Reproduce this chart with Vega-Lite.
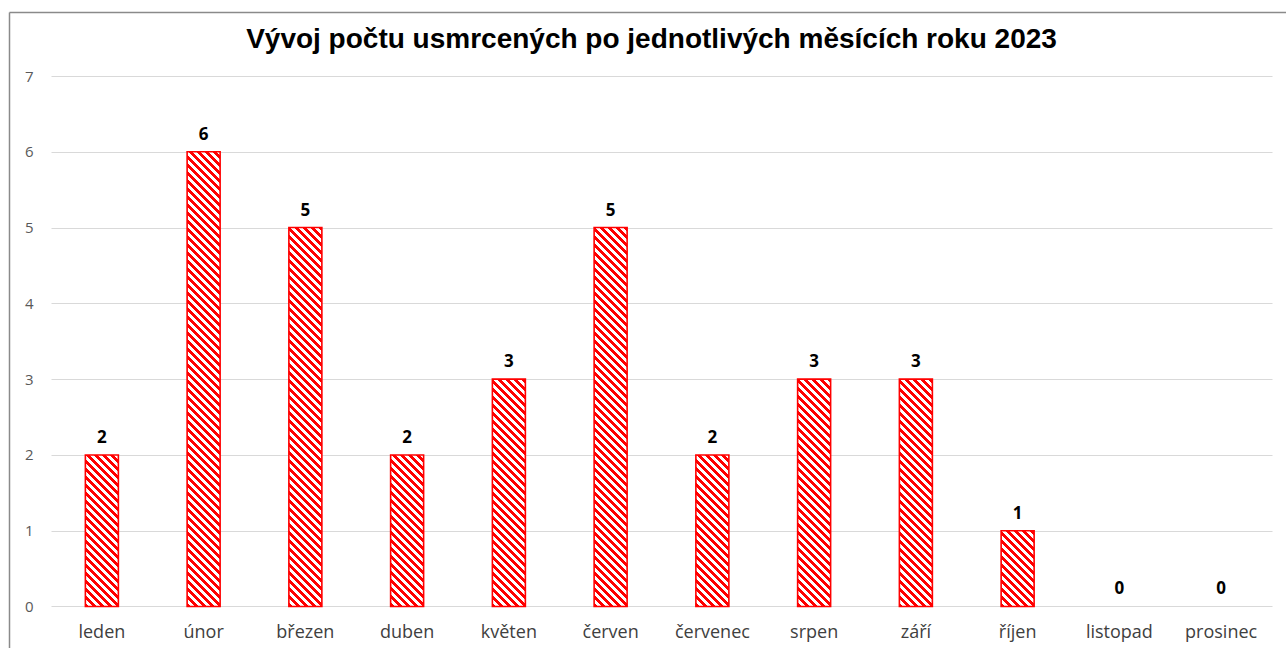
{
"$schema": "https://vega.github.io/schema/vega-lite/v6.json",
"autosize": {"type": "none"},
"width": 1221,
"height": 636,
"padding": {"left": 51, "top": 12, "right": 14, "bottom": 0},
"background": "white",
"config": {"view": {"stroke": null}, "font": "Open Sans"},
"params": [
{"name": "hatch", "value": [{"offset":0,"color":"red"},
{"offset":0.008,"color":"red"},{"offset":0.008,"color":"white"},
{"offset":0.016,"color":"white"},{"offset":0.016,"color":"red"},
{"offset":0.024,"color":"red"},{"offset":0.024,"color":"white"},
{"offset":0.032,"color":"white"},{"offset":0.032,"color":"red"},
{"offset":0.04,"color":"red"},{"offset":0.04,"color":"white"},
{"offset":0.048,"color":"white"},{"offset":0.048,"color":"red"},
{"offset":0.056,"color":"red"},{"offset":0.056,"color":"white"},
{"offset":0.064,"color":"white"},{"offset":0.064,"color":"red"},
{"offset":0.072,"color":"red"},{"offset":0.072,"color":"white"},
{"offset":0.08,"color":"white"},{"offset":0.08,"color":"red"},
{"offset":0.088,"color":"red"},{"offset":0.088,"color":"white"},
{"offset":0.096,"color":"white"},{"offset":0.096,"color":"red"},
{"offset":0.104,"color":"red"},{"offset":0.104,"color":"white"},
{"offset":0.112,"color":"white"},{"offset":0.112,"color":"red"},
{"offset":0.12,"color":"red"},{"offset":0.12,"color":"white"},
{"offset":0.128,"color":"white"},{"offset":0.128,"color":"red"},
{"offset":0.136,"color":"red"},{"offset":0.136,"color":"white"},
{"offset":0.144,"color":"white"},{"offset":0.144,"color":"red"},
{"offset":0.152,"color":"red"},{"offset":0.152,"color":"white"},
{"offset":0.16,"color":"white"},{"offset":0.16,"color":"red"},
{"offset":0.168,"color":"red"},{"offset":0.168,"color":"white"},
{"offset":0.176,"color":"white"},{"offset":0.176,"color":"red"},
{"offset":0.184,"color":"red"},{"offset":0.184,"color":"white"},
{"offset":0.192,"color":"white"},{"offset":0.192,"color":"red"},
{"offset":0.2,"color":"red"},{"offset":0.2,"color":"white"},
{"offset":0.208,"color":"white"},{"offset":0.208,"color":"red"},
{"offset":0.216,"color":"red"},{"offset":0.216,"color":"white"},
{"offset":0.224,"color":"white"},{"offset":0.224,"color":"red"},
{"offset":0.232,"color":"red"},{"offset":0.232,"color":"white"},
{"offset":0.24,"color":"white"},{"offset":0.24,"color":"red"},
{"offset":0.248,"color":"red"},{"offset":0.248,"color":"white"},
{"offset":0.256,"color":"white"},{"offset":0.256,"color":"red"},
{"offset":0.264,"color":"red"},{"offset":0.264,"color":"white"},
{"offset":0.272,"color":"white"},{"offset":0.272,"color":"red"},
{"offset":0.28,"color":"red"},{"offset":0.28,"color":"white"},
{"offset":0.288,"color":"white"},{"offset":0.288,"color":"red"},
{"offset":0.296,"color":"red"},{"offset":0.296,"color":"white"},
{"offset":0.304,"color":"white"},{"offset":0.304,"color":"red"},
{"offset":0.312,"color":"red"},{"offset":0.312,"color":"white"},
{"offset":0.32,"color":"white"},{"offset":0.32,"color":"red"},
{"offset":0.328,"color":"red"},{"offset":0.328,"color":"white"},
{"offset":0.336,"color":"white"},{"offset":0.336,"color":"red"},
{"offset":0.344,"color":"red"},{"offset":0.344,"color":"white"},
{"offset":0.352,"color":"white"},{"offset":0.352,"color":"red"},
{"offset":0.36,"color":"red"},{"offset":0.36,"color":"white"},
{"offset":0.368,"color":"white"},{"offset":0.368,"color":"red"},
{"offset":0.376,"color":"red"},{"offset":0.376,"color":"white"},
{"offset":0.384,"color":"white"},{"offset":0.384,"color":"red"},
{"offset":0.392,"color":"red"},{"offset":0.392,"color":"white"},
{"offset":0.4,"color":"white"},{"offset":0.4,"color":"red"},
{"offset":0.408,"color":"red"},{"offset":0.408,"color":"white"},
{"offset":0.416,"color":"white"},{"offset":0.416,"color":"red"},
{"offset":0.424,"color":"red"},{"offset":0.424,"color":"white"},
{"offset":0.432,"color":"white"},{"offset":0.432,"color":"red"},
{"offset":0.44,"color":"red"},{"offset":0.44,"color":"white"},
{"offset":0.448,"color":"white"},{"offset":0.448,"color":"red"},
{"offset":0.456,"color":"red"},{"offset":0.456,"color":"white"},
{"offset":0.464,"color":"white"},{"offset":0.464,"color":"red"},
{"offset":0.472,"color":"red"},{"offset":0.472,"color":"white"},
{"offset":0.48,"color":"white"},{"offset":0.48,"color":"red"},
{"offset":0.488,"color":"red"},{"offset":0.488,"color":"white"},
{"offset":0.496,"color":"white"},{"offset":0.496,"color":"red"},
{"offset":0.504,"color":"red"},{"offset":0.504,"color":"white"},
{"offset":0.512,"color":"white"},{"offset":0.512,"color":"red"},
{"offset":0.52,"color":"red"},{"offset":0.52,"color":"white"},
{"offset":0.528,"color":"white"},{"offset":0.528,"color":"red"},
{"offset":0.536,"color":"red"},{"offset":0.536,"color":"white"},
{"offset":0.544,"color":"white"},{"offset":0.544,"color":"red"},
{"offset":0.552,"color":"red"},{"offset":0.552,"color":"white"},
{"offset":0.56,"color":"white"},{"offset":0.56,"color":"red"},
{"offset":0.568,"color":"red"},{"offset":0.568,"color":"white"},
{"offset":0.576,"color":"white"},{"offset":0.576,"color":"red"},
{"offset":0.584,"color":"red"},{"offset":0.584,"color":"white"},
{"offset":0.592,"color":"white"},{"offset":0.592,"color":"red"},
{"offset":0.6,"color":"red"},{"offset":0.6,"color":"white"},
{"offset":0.608,"color":"white"},{"offset":0.608,"color":"red"},
{"offset":0.616,"color":"red"},{"offset":0.616,"color":"white"},
{"offset":0.624,"color":"white"},{"offset":0.624,"color":"red"},
{"offset":0.632,"color":"red"},{"offset":0.632,"color":"white"},
{"offset":0.64,"color":"white"},{"offset":0.64,"color":"red"},
{"offset":0.648,"color":"red"},{"offset":0.648,"color":"white"},
{"offset":0.656,"color":"white"},{"offset":0.656,"color":"red"},
{"offset":0.664,"color":"red"},{"offset":0.664,"color":"white"},
{"offset":0.672,"color":"white"},{"offset":0.672,"color":"red"},
{"offset":0.68,"color":"red"},{"offset":0.68,"color":"white"},
{"offset":0.688,"color":"white"},{"offset":0.688,"color":"red"},
{"offset":0.696,"color":"red"},{"offset":0.696,"color":"white"},
{"offset":0.704,"color":"white"},{"offset":0.704,"color":"red"},
{"offset":0.712,"color":"red"},{"offset":0.712,"color":"white"},
{"offset":0.72,"color":"white"},{"offset":0.72,"color":"red"},
{"offset":0.728,"color":"red"},{"offset":0.728,"color":"white"},
{"offset":0.736,"color":"white"},{"offset":0.736,"color":"red"},
{"offset":0.744,"color":"red"},{"offset":0.744,"color":"white"},
{"offset":0.752,"color":"white"},{"offset":0.752,"color":"red"},
{"offset":0.76,"color":"red"},{"offset":0.76,"color":"white"},
{"offset":0.768,"color":"white"},{"offset":0.768,"color":"red"},
{"offset":0.776,"color":"red"},{"offset":0.776,"color":"white"},
{"offset":0.784,"color":"white"},{"offset":0.784,"color":"red"},
{"offset":0.792,"color":"red"},{"offset":0.792,"color":"white"},
{"offset":0.8,"color":"white"},{"offset":0.8,"color":"red"},
{"offset":0.808,"color":"red"},{"offset":0.808,"color":"white"},
{"offset":0.816,"color":"white"},{"offset":0.816,"color":"red"},
{"offset":0.824,"color":"red"},{"offset":0.824,"color":"white"},
{"offset":0.832,"color":"white"},{"offset":0.832,"color":"red"},
{"offset":0.84,"color":"red"},{"offset":0.84,"color":"white"},
{"offset":0.848,"color":"white"},{"offset":0.848,"color":"red"},
{"offset":0.856,"color":"red"},{"offset":0.856,"color":"white"},
{"offset":0.864,"color":"white"},{"offset":0.864,"color":"red"},
{"offset":0.872,"color":"red"},{"offset":0.872,"color":"white"},
{"offset":0.88,"color":"white"},{"offset":0.88,"color":"red"},
{"offset":0.888,"color":"red"},{"offset":0.888,"color":"white"},
{"offset":0.896,"color":"white"},{"offset":0.896,"color":"red"},
{"offset":0.904,"color":"red"},{"offset":0.904,"color":"white"},
{"offset":0.912,"color":"white"},{"offset":0.912,"color":"red"},
{"offset":0.92,"color":"red"},{"offset":0.92,"color":"white"},
{"offset":0.928,"color":"white"},{"offset":0.928,"color":"red"},
{"offset":0.936,"color":"red"},{"offset":0.936,"color":"white"},
{"offset":0.944,"color":"white"},{"offset":0.944,"color":"red"},
{"offset":0.952,"color":"red"},{"offset":0.952,"color":"white"},
{"offset":0.96,"color":"white"},{"offset":0.96,"color":"red"},
{"offset":0.968,"color":"red"},{"offset":0.968,"color":"white"},
{"offset":0.976,"color":"white"},{"offset":0.976,"color":"red"},
{"offset":0.984,"color":"red"},{"offset":0.984,"color":"white"}
]}
],
"title": {"text": "Vývoj počtu usmrcených po jednotlivých měsících roku 2023", "font": "Liberation Sans", "fontSize": 28, "fontWeight": "bold", "color": "#000000", "anchor": "middle", "frame": "group", "orient": "top", "offset": 0, "baseline": "alphabetic", "dy": 65, "dx": -10},
"data": {"values": [
{"mesic": "leden", "pocet": 2},
{"mesic": "únor", "pocet": 6},
{"mesic": "březen", "pocet": 5},
{"mesic": "duben", "pocet": 2},
{"mesic": "květen", "pocet": 3},
{"mesic": "červen", "pocet": 5},
{"mesic": "červenec", "pocet": 2},
{"mesic": "srpen", "pocet": 3},
{"mesic": "září", "pocet": 3},
{"mesic": "říjen", "pocet": 1},
{"mesic": "listopad", "pocet": 0},
{"mesic": "prosinec", "pocet": 0}
]},
"layer": [
{
"mark": {"type": "bar", "stroke": "#ff0000", "strokeWidth": 1.6},
"encoding": {
"x": {"field": "mesic", "type": "nominal", "sort": null, "scale": {"paddingInner": 0.6757, "paddingOuter": 0.3378},
 "axis": {"orient": "bottom", "offset": -41.4, "title": null, "domain": false, "ticks": false, "grid": false, "labelAngle": 0, "labelPadding": 17, "labelFont": "Open Sans", "labelFontSize": 18, "labelColor": "#404040"}},
"y": {"field": "pocet", "type": "quantitative", "scale": {"domain": [-0.5476, 7.8445], "nice": false, "zero": false},
 "axis": {"orient": "left", "values": [0, 1, 2, 3, 4, 5, 6, 7], "title": null, "grid": true, "gridColor": "#d9d9d9", "gridWidth": 1, "domain": false, "ticks": false, "labelPadding": 18, "labelFont": "Open Sans", "labelFontSize": 15, "labelColor": "#595959"}},
"y2": {"datum": 0},
"strokeOpacity": {"condition": {"test": "datum.pocet === 0", "value": 0}, "value": 1},
"fill": {"condition": [
 {"test": "datum.pocet === 1", "value": {"expr": "{gradient: 'linear', x1: 0, y1: 1, x2: 2.41418, y2: -4.54528, stops: hatch}"}},
 {"test": "datum.pocet === 2", "value": {"expr": "{gradient: 'linear', x1: 0, y1: 1, x2: 0.685457, y2: -2.148945, stops: hatch}"}},
 {"test": "datum.pocet === 3", "value": {"expr": "{gradient: 'linear', x1: 0, y1: 1, x2: 0.3125, y2: -1.153419, stops: hatch}"}},
 {"test": "datum.pocet === 5", "value": {"expr": "{gradient: 'linear', x1: 0, y1: 1, x2: 0.114005, y2: -0.309335, stops: hatch}"}},
 {"test": "datum.pocet === 6", "value": {"expr": "{gradient: 'linear', x1: 0, y1: 1, x2: 0.079353, y2: -0.093627, stops: hatch}"}}
 ], "value": "white"}
}
},
{
"mark": {"type": "text", "font": "Open Sans", "fontWeight": "bold", "fontSize": 17, "dy": -12, "baseline": "alphabetic", "color": "#000000"},
"encoding": {
"x": {"field": "mesic", "type": "nominal", "sort": null},
"y": {"field": "pocet", "type": "quantitative",
 "axis": {"orient": "left", "offset": 42, "values": [7.8445], "title": null, "labels": false, "grid": false, "domain": true, "domainColor": "#8a8a8a", "domainWidth": 1.5, "ticks": true, "tickSize": -1300, "tickColor": "#8a8a8a", "tickWidth": 1.5}},
"text": {"field": "pocet", "type": "quantitative"}
}
}
],
"resolve": {"axis": {"y": "independent"}}
}
